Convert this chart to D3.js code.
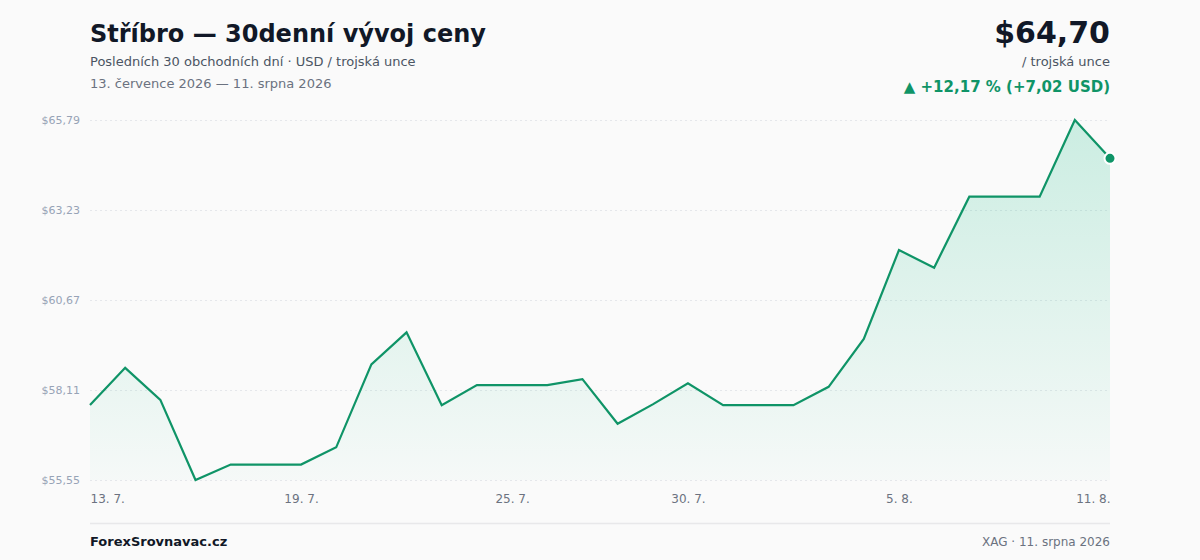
<!DOCTYPE html>
<html>
<head>
<meta charset="utf-8">
<script src="https://cdn.jsdelivr.net/npm/d3@7"></script>
<style>
  body { margin: 0; background: #fafafa; }
  svg { display: block; font-family: "DejaVu Sans", sans-serif; }
</style>
</head>
<body>
<svg width="1200" height="560"></svg>
<script>
// 30 consecutive days, 13. 7. 2026 .. 11. 8. 2026
var startDate = new Date(2026, 6, 13);
var prices = [57.68, 58.74, 57.83, 55.55, 55.99, 55.99, 55.99, 56.48, 58.84, 59.75,
              57.68, 58.25, 58.25, 58.25, 58.42, 57.15, 57.70, 58.30, 57.68, 57.68,
              57.68, 58.20, 59.56, 62.09, 61.59, 63.61, 63.61, 63.61, 65.79, 64.70];
var yTicks = [55.55, 58.11, 60.67, 63.23, 65.79];
var xTickIdx = [0, 6, 12, 17, 23, 29];

var data = prices.map(function(p, i) {
    return { date: d3.timeDay.offset(startDate, i), price: p };
});

var svg = d3.select('svg');
var svgWidth = +svg.attr('width');

var padding = {t: 120, r: 90, b: 80, l: 90};
var chartBottom = 480;

var green = '#0f9467';
var mint = '#10b981';

var x = d3.scaleTime()
    .domain(d3.extent(data, function(d) { return d.date; }))
    .range([padding.l, svgWidth - padding.r]);

var y = d3.scaleLinear()
    .domain([yTicks[0], yTicks[yTicks.length - 1]])
    .range([chartBottom, padding.t]);

var fmt = function(v) { return '$' + d3.format('.2f')(v).replace('.', ','); };

// gradient for the area
var defs = svg.append('defs');
var grad = defs.append('linearGradient')
    .attr('id', 'areaGrad')
    .attr('gradientUnits', 'userSpaceOnUse')
    .attr('x1', 0).attr('x2', 0)
    .attr('y1', padding.t).attr('y2', chartBottom);
grad.append('stop').attr('offset', '0%').attr('stop-color', mint).attr('stop-opacity', 0.2);
grad.append('stop').attr('offset', '100%').attr('stop-color', mint).attr('stop-opacity', 0.02);

// gridlines + y labels
var yAxis = d3.axisLeft(y)
    .tickValues(yTicks)
    .tickSize(-(svgWidth - padding.l - padding.r))
    .tickPadding(10)
    .tickFormat(fmt);

var yG = svg.append('g')
    .attr('transform', 'translate(' + padding.l + ',0)')
    .call(yAxis);
yG.select('.domain').remove();
yG.selectAll('.tick line')
    .attr('stroke', '#e5e7eb')
    .attr('stroke-dasharray', '2,3');
yG.selectAll('.tick text')
    .attr('fill', '#97a3b6')
    .style('font-size', '11px')
    .style('font-family', '"DejaVu Sans", sans-serif');

// area + line
var area = d3.area()
    .x(function(d) { return x(d.date); })
    .y0(chartBottom)
    .y1(function(d) { return y(d.price); });

var line = d3.line()
    .x(function(d) { return x(d.date); })
    .y(function(d) { return y(d.price); });

svg.append('path')
    .datum(data)
    .attr('d', area)
    .attr('fill', 'url(#areaGrad)');

svg.append('path')
    .datum(data)
    .attr('d', line)
    .attr('fill', 'none')
    .attr('stroke', green)
    .attr('stroke-width', 2.2)
    .attr('stroke-linejoin', 'miter');

var last = data[data.length - 1];
svg.append('circle')
    .attr('cx', x(last.date))
    .attr('cy', y(last.price))
    .attr('r', 5.5)
    .attr('fill', green)
    .attr('stroke', '#ffffff')
    .attr('stroke-width', 2);

// x labels
var xAxis = d3.axisBottom(x)
    .tickValues(xTickIdx.map(function(i) { return data[i].date; }))
    .tickSize(0)
    .tickPadding(14)
    .tickFormat(d3.timeFormat('%-d. %-m.'));

var xG = svg.append('g')
    .attr('transform', 'translate(0,' + chartBottom + ')')
    .call(xAxis);
xG.select('.domain').remove();
xG.selectAll('.tick text')
    .attr('fill', '#6b7280')
    .style('font-size', '12px')
    .style('font-family', '"DejaVu Sans", sans-serif')
    .attr('text-anchor', function(d, i, n) {
        return i === 0 ? 'start' : (i === n.length - 1 ? 'end' : 'middle');
    });

// title block
svg.append('text')
    .attr('x', padding.l).attr('y', 42)
    .attr('fill', '#111827')
    .style('font-size', '24px').style('font-weight', 'bold')
    .text('Stříbro — 30denní vývoj ceny');

svg.append('text')
    .attr('x', padding.l).attr('y', 66)
    .attr('fill', '#4b5563')
    .style('font-size', '13px')
    .text('Posledních 30 obchodních dní · USD / trojská unce');

svg.append('text')
    .attr('x', padding.l).attr('y', 88)
    .attr('fill', '#6b7280')
    .style('font-size', '13px')
    .text('13. července 2026 — 11. srpna 2026');

// price block
var right = svgWidth - padding.r;
var first = data[0].price;
var diff = last.price - first;
var pct = diff / first * 100;

svg.append('text')
    .attr('x', right).attr('y', 43)
    .attr('text-anchor', 'end')
    .attr('fill', '#111827')
    .style('font-size', '30px').style('font-weight', 'bold')
    .text(fmt(last.price));

svg.append('text')
    .attr('x', right).attr('y', 66)
    .attr('text-anchor', 'end')
    .attr('fill', '#4b5563')
    .style('font-size', '13px')
    .text('/ trojská unce');

svg.append('text')
    .attr('x', right).attr('y', 92)
    .attr('text-anchor', 'end')
    .attr('fill', green)
    .style('font-size', '15px').style('font-weight', 'bold')
    .text('▲ +' + d3.format('.2f')(pct).replace('.', ',') + ' % (+' +
          d3.format('.2f')(diff).replace('.', ',') + ' USD)');

// footer
svg.append('line')
    .attr('x1', padding.l).attr('x2', right)
    .attr('y1', 523.5).attr('y2', 523.5)
    .attr('stroke', '#e8e8ea')
    .attr('stroke-width', 1.5);

svg.append('text')
    .attr('x', padding.l).attr('y', 546)
    .attr('fill', '#111827')
    .style('font-size', '13px').style('font-weight', 'bold')
    .text('ForexSrovnavac.cz');

svg.append('text')
    .attr('x', right).attr('y', 546)
    .attr('text-anchor', 'end')
    .attr('fill', '#6b7280')
    .style('font-size', '12px')
    .text('XAG · 11. srpna 2026');
</script>
</body>
</html>
